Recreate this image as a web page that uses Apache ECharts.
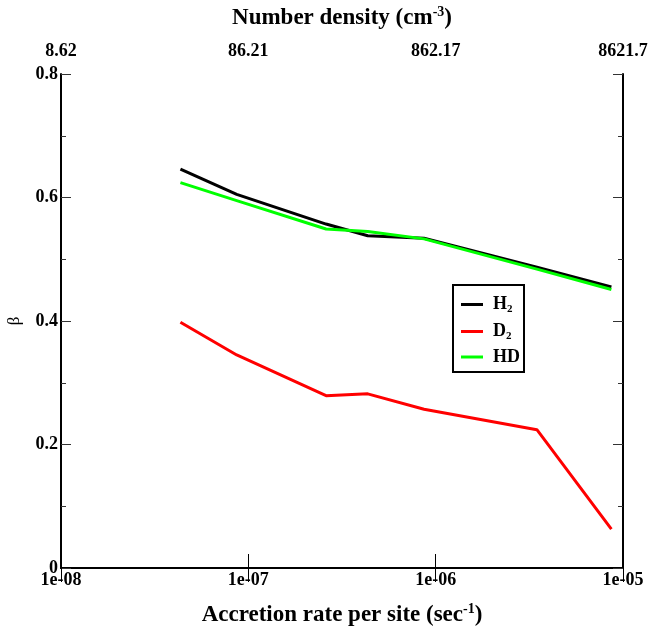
<!DOCTYPE html>
<html>
<head>
<meta charset="utf-8">
<script src="https://cdn.jsdelivr.net/npm/echarts@6/dist/echarts.min.js"></script>
<style>
  html, body { margin: 0; padding: 0; background: #fff; }
  #chart { width: 651px; height: 632px; }
</style>
</head>
<body>
<div id="chart"></div>
<script>
// Accretion rate per site (sec^-1) at each sampled point
const rates = [4.34e-8, 8.67e-8, 2.6e-7, 4.34e-7, 8.67e-7, 3.47e-6, 8.67e-6];
// beta values for each molecule
const h2 = [0.646, 0.605, 0.557, 0.538, 0.534, 0.487, 0.455];
const d2 = [0.398, 0.345, 0.279, 0.282, 0.257, 0.224, 0.063];
const hd = [0.624, 0.595, 0.549, 0.545, 0.533, 0.484, 0.451];
// Top axis labels: number density matching each decade of the rate axis
const densityLabels = ['8.62', '86.21', '862.17', '8621.7'];
const rateLabels = ['1e-08', '1e-07', '1e-06', '1e-05'];

const FONT = '"Liberation Serif", "Times New Roman", serif';

function decadeIndex(v) {
  return Math.round(Math.log10(v)) + 8;
}

function pairs(ys) {
  return rates.map((r, i) => [r, ys[i]]);
}

const chart = echarts.init(document.getElementById('chart'), null, { renderer: 'canvas' });

const axisLine = { show: true, lineStyle: { color: '#000', width: 2 } };
const tickLabel = { fontFamily: FONT, fontWeight: 'bold', fontSize: 18, color: '#000' };
const titleRich = {
  m: { fontFamily: FONT, fontWeight: 'bold', fontSize: 23, color: '#000', lineHeight: 26 },
  s: { fontFamily: FONT, fontWeight: 'bold', fontSize: 14, color: '#000', lineHeight: 26, padding: [0, 0, 12, 0] }
};

chart.setOption({
  animation: false,
  backgroundColor: '#fff',
  grid: { left: 61, right: 28, top: 74, bottom: 64, containLabel: false, outerBoundsMode: 'none' },
  legend: {
    orient: 'vertical',
    left: 453,
    top: 285,
    borderColor: '#000',
    borderWidth: 2,
    padding: [9, 4, 6, 8],
    itemGap: 6,
    itemWidth: 22,
    itemHeight: 3,
    icon: 'rect',
    data: ['H2', 'D2', 'HD'],
    formatter: function (name) {
      if (name === 'HD') return '{m|HD}';
      return '{m|' + name[0] + '}{s|2}';
    },
    textStyle: {
      fontFamily: FONT,
      fontWeight: 'bold',
      fontSize: 17,
      color: '#000',
      rich: {
        m: { fontFamily: FONT, fontWeight: 'bold', fontSize: 18, color: '#000', lineHeight: 18, padding: [0, 0, 0, 5] },
        s: { fontFamily: FONT, fontWeight: 'bold', fontSize: 11, color: '#000', lineHeight: 18, padding: [10, 0, 0, 0] }
      }
    }
  },
  xAxis: [
    {
      type: 'log',
      logBase: 10,
      min: 1e-8,
      max: 1e-5,
      position: 'bottom',
      axisLine: axisLine,
      axisTick: { show: true, inside: true, length: 14, lineStyle: { color: '#000', width: 1 } },
      minorTick: { show: false },
      splitLine: { show: false },
      axisLabel: Object.assign({}, tickLabel, {
        margin: 3,
        formatter: function (v) { return rateLabels[decadeIndex(v)]; }
      }),
      name: '{m|Accretion rate per site (sec}{s|-1}{m|)}',
      nameLocation: 'middle',
      nameGap: 34,
      nameMoveOverlap: false,
      nameTextStyle: { rich: titleRich }
    },
    {
      type: 'log',
      logBase: 10,
      min: 1e-8,
      max: 1e-5,
      position: 'top',
      axisLine: axisLine,
      axisTick: { show: true, inside: true, length: 14, lineStyle: { color: '#000', width: 1 } },
      minorTick: { show: false },
      splitLine: { show: false },
      axisLabel: Object.assign({}, tickLabel, {
        margin: 14,
        formatter: function (v) { return densityLabels[decadeIndex(v)]; }
      }),
      name: '{m|Number density (cm}{s|-3}{m|)}',
      nameLocation: 'middle',
      nameGap: 43,
      nameMoveOverlap: false,
      nameTextStyle: { rich: titleRich }
    }
  ],
  yAxis: [
    {
      type: 'value',
      min: 0,
      max: 0.8,
      interval: 0.2,
      position: 'left',
      axisLine: axisLine,
      axisTick: { show: true, inside: true, length: 10, lineStyle: { color: '#333', width: 1 } },
      minorTick: { show: true, splitNumber: 2, length: 5, lineStyle: { color: '#333', width: 1 } },
      splitLine: { show: false },
      axisLabel: Object.assign({}, tickLabel, {
        margin: 3,
        formatter: function (v) { return v === 0 ? '0' : v.toFixed(1); }
      }),
      name: 'β',
      nameLocation: 'middle',
      nameGap: 38,
      nameMoveOverlap: false,
      nameTextStyle: { fontFamily: FONT, fontSize: 17, color: '#000' }
    },
    {
      type: 'value',
      min: 0,
      max: 0.8,
      interval: 0.2,
      position: 'right',
      axisLine: axisLine,
      axisTick: { show: true, inside: true, length: 10, lineStyle: { color: '#333', width: 1 } },
      minorTick: { show: true, splitNumber: 2, length: 5, lineStyle: { color: '#333', width: 1 } },
      splitLine: { show: false },
      axisLabel: { show: false }
    }
  ],
  series: [
    {
      name: 'H2', type: 'line', xAxisIndex: 0, yAxisIndex: 0,
      data: pairs(h2), showSymbol: false, symbol: 'none',
      color: '#000000', lineStyle: { color: '#000000', width: 3 }
    },
    {
      name: 'D2', type: 'line', xAxisIndex: 0, yAxisIndex: 0,
      data: pairs(d2), showSymbol: false, symbol: 'none',
      color: '#ff0000', lineStyle: { color: '#ff0000', width: 3 }
    },
    {
      name: 'HD', type: 'line', xAxisIndex: 0, yAxisIndex: 0,
      data: pairs(hd), showSymbol: false, symbol: 'none',
      color: '#00ff00', lineStyle: { color: '#00ff00', width: 3 }
    }
  ]
});
</script>
</body>
</html>
